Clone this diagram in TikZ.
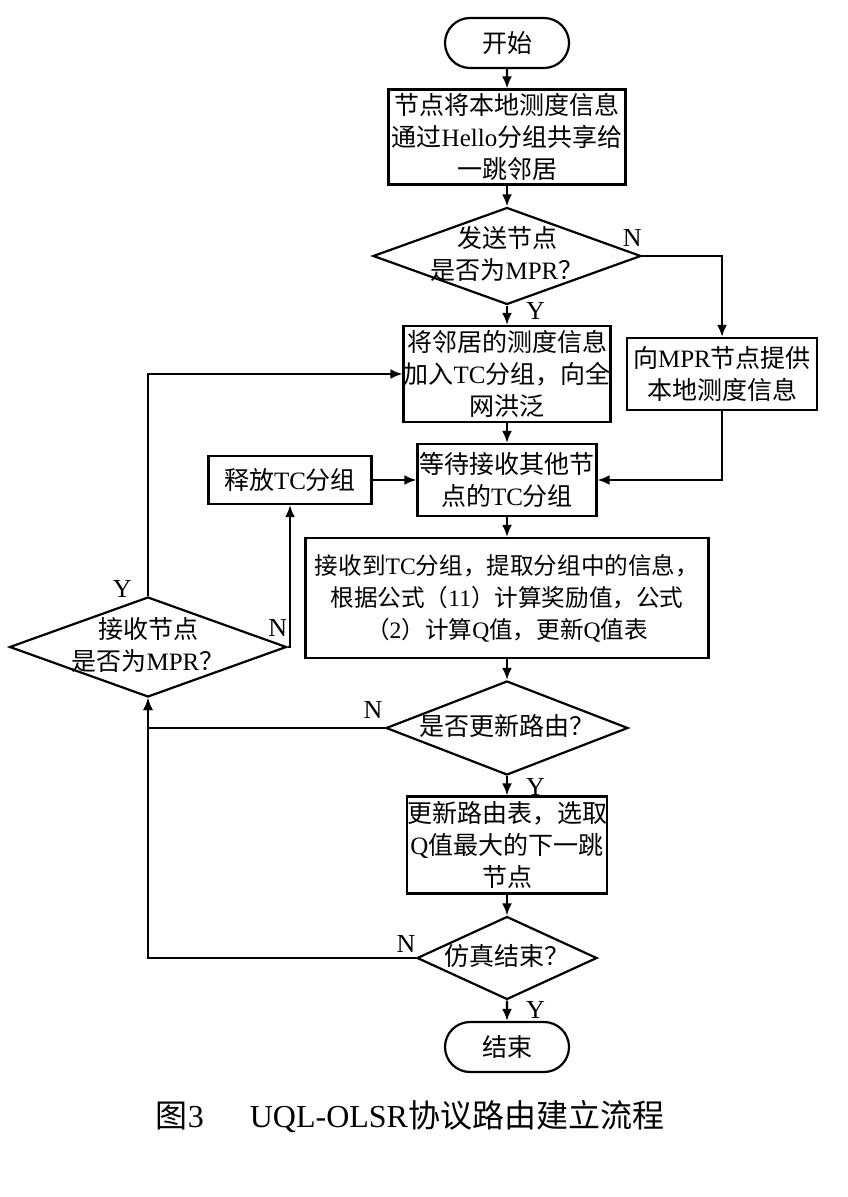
\documentclass[tikz,border=0pt]{standalone}
\usepackage{fontspec}
\setmainfont{Noto Sans CJK SC}
\newfontfamily\latfont{Liberation Serif}
\usetikzlibrary{arrows.meta,shapes.geometric,shapes.misc}

\newcommand{\en}[1]{{\latfont #1}}
\newcommand{\dlab}[1]{\raisebox{-.28em}[0pt][0pt]{\makebox[0pt]{\begin{tabular}{@{}c@{}}#1\end{tabular}}}}

\tikzset{
	box/.style={draw, line width=1.1pt, rectangle, align=center, inner sep=0pt},
	term/.style={draw, line width=1.1pt, rounded rectangle, minimum width=62pt, minimum height=25pt, inner sep=0pt},
	decide/.style={draw, line width=1.1pt, diamond, inner sep=0pt},
	yn/.style={font=\latfont\fontsize{13}{13}\selectfont, inner sep=0pt},
	flow/.style={line width=1.1pt, -{Latex[length=6pt,width=5pt]}}
}

\begin{document}
\begin{tikzpicture}[x=0.5pt, y=-0.5pt, font=\fontsize{12.5}{16}\selectfont]
	\useasboundingbox (0,0) rectangle (847,1197);
	% nodes
	\node[term] (start) at (507,43) {开始};
	\node[box, minimum width=118.5pt, minimum height=47.5pt] (share) at (507,137)
		{节点将本地测度信息\\通过\en{Hello}分组共享给\\一跳邻居};
	\node[decide, minimum width=134pt, minimum height=48.5pt] (sendmpr) at (507,256)
		{\dlab{发送节点\\是否为\en{MPR}？}};
	\node[box, minimum width=103pt, minimum height=48pt] (flood) at (507,374)
		{将邻居的测度信息\\加入\en{TC}分组，向全\\网洪泛};
	\node[box, minimum width=95pt, minimum height=36pt] (provide) at (722,374)
		{向\en{MPR}节点提供\\本地测度信息};
	\node[box, minimum width=89.5pt, minimum height=36pt] (wait) at (507,480)
		{等待接收其他节\\点的\en{TC}分组};
	\node[box, minimum width=81.5pt, minimum height=24pt] (release) at (290,480)
		{释放\en{TC}分组};
	\node[box, minimum width=201.5pt, minimum height=60pt, font=\fontsize{11.8}{16}\selectfont] (update) at (507,598)
		{接收到\en{TC}分组，提取分组中的信息，\\根据公式（\en{11}）计算奖励值，公式\\（\en{2}）计算\en{Q}值，更新\en{Q}值表};
	\node[decide, minimum width=138.5pt, minimum height=50pt] (recvmpr) at (148,647)
		{\dlab{接收节点\\是否为\en{MPR}？}};
	\node[decide, minimum width=121pt, minimum height=47pt] (chkroute) at (507,728)
		{\dlab{是否更新路由？}};
	\node[box, minimum width=98.5pt, minimum height=48.5pt] (route) at (507,845)
		{更新路由表，选取\\\en{Q}值最大的下一跳\\节点};
	\node[decide, minimum width=90pt, minimum height=41.5pt] (simend) at (507,958)
		{\dlab{仿真结束？}};
	\node[term] (stop) at (507,1047) {结束};
	% caption
	\node[font=\fontsize{16}{16}\selectfont] (caption) at (410,1117)
		{图\en{3}\hspace{23pt}\en{UQL-OLSR}协议路由建立流程};
	%
	\path[flow]
	% main column
	(start) edge (share)
	(share) edge (sendmpr)
	(sendmpr) edge node[yn, pos=0.3, right=9pt]{Y} (flood)
	(flood) edge (wait)
	(release) edge (wait)
	(wait) edge (update)
	(update) edge (chkroute)
	(chkroute) edge node[yn, pos=0.55, right=9pt]{Y} (route)
	(route) edge (simend)
	(simend) edge node[yn, pos=0.45, right=9pt]{Y} (stop);
	% side branches
	\draw[flow] (sendmpr.east) -| (provide.north);
	\draw[flow] (provide.south) |- (wait.east);
	\draw[flow] (recvmpr.north) |- (flood.west);
	\draw[flow] (recvmpr.east) -| (release.south);
	\draw[flow] (chkroute.west) -| (recvmpr.south);
	\draw[flow] (simend.west) -| (recvmpr.south);
	% branch labels
	\node[yn, anchor=south east, yshift=4.5pt] (n1) at (sendmpr.east) {N};
	\node[yn, anchor=south east, xshift=-8pt, yshift=-1pt] (y2) at (recvmpr.north) {Y};
	\node[yn, anchor=south east, yshift=5pt] (n2) at (recvmpr.east) {N};
	\node[yn, anchor=south east, xshift=-1pt, yshift=4.5pt] (n3) at (chkroute.west) {N};
	\node[yn, anchor=south east, yshift=2.5pt] (n4) at (simend.west) {N};
\end{tikzpicture}
\end{document}
